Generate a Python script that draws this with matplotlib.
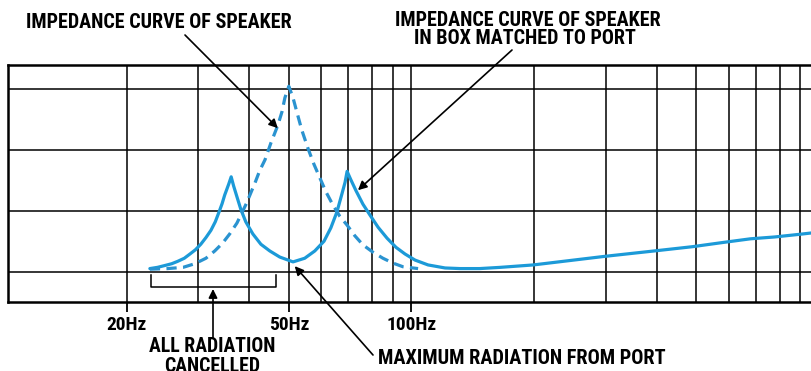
import matplotlib
matplotlib.use("Agg")
import matplotlib.pyplot as plt
from matplotlib.ticker import NullFormatter

plt.rcParams['font.family'] = ['Roboto Condensed', 'Roboto', 'DejaVu Sans']
plt.rcParams['font.weight'] = 'bold'

# speaker in box matched to port (solid)
freq_solid = [22.8, 23.8, 24.8, 25.8, 26.7, 27.7, 28.6, 29.5, 30.4, 31.3, 32.2,
              33.0, 33.7, 34.3, 34.8, 35.2, 35.6, 36.1,
              36.6, 37.3, 38.1, 39.2, 40.8, 42.7, 44.9, 47.5, 51.2,
              54.7, 57.9, 61.0, 63.4, 65.6, 67.5, 68.7, 69.5,
              71.0, 73.1, 76.0, 79.1, 82.8, 87.1, 91.6, 96.4, 102, 109.8,
              120.9, 131.6, 147, 165, 199, 297, 394, 489, 582, 679, 778, 885, 1000]
imp_solid = [0.55, 0.57, 0.60, 0.63, 0.67, 0.72, 0.79, 0.86, 0.95, 1.06, 1.18,
             1.32, 1.48, 1.62, 1.76, 1.85, 1.94, 2.06,
             1.91, 1.73, 1.53, 1.32, 1.12, 0.95, 0.84, 0.74, 0.66,
             0.72, 0.84, 1.00, 1.22, 1.48, 1.78, 1.97, 2.15,
             2.01, 1.83, 1.61, 1.43, 1.23, 1.05, 0.90, 0.79, 0.69, 0.61,
             0.56, 0.55, 0.55, 0.57, 0.61, 0.75, 0.84, 0.91, 0.98, 1.04, 1.07, 1.11, 1.15]

# speaker alone (dashed)
freq_dashed = [22.8, 25.2, 27.5, 29.4, 31.3, 32.9, 34.4, 35.8, 37.3, 38.3,
               39.4, 40.3, 41.3, 42.4, 43.7, 45.2, 47.0, 48.1, 48.9, 50.0,
               51.2, 52.3, 53.8, 55.7, 57.6, 59.6, 61.7, 64.1, 66.7, 69.4,
               72.6, 76.0, 80.4, 85.1, 90.1, 95.3, 103.8]
imp_dashed = [0.54, 0.55, 0.57, 0.63, 0.72, 0.84, 0.97, 1.12, 1.30, 1.46,
              1.63, 1.79, 1.96, 2.16, 2.34, 2.62, 2.91, 3.13, 3.36, 3.55,
              3.36, 3.13, 2.83, 2.53, 2.27, 2.04, 1.81, 1.60, 1.41, 1.27,
              1.09, 0.94, 0.82, 0.72, 0.64, 0.58, 0.55]

tick_freqs = [20, 50, 100]
tick_labels = ['20Hz', '50Hz', '100Hz']
grid_freqs = [30, 40, 60, 70, 80, 90, 200, 300, 400, 500, 600, 700, 800, 900]
grid_levels = [0.5, 1.5, 2.5, 3.5]

W, H = 812, 371
fig = plt.figure(figsize=(W / 100, H / 100), dpi=100)
ax = fig.add_axes([7.5 / W, 69 / H, (819 - 7.5) / W, 237 / H])
ax.set_xscale('log')
ax.set_xlim(10.2, 1000)
ax.set_ylim(0, 3.9)

ax.set_xticks(tick_freqs)
ax.set_xticklabels(tick_labels)
ax.set_xticks(grid_freqs, minor=True)
ax.xaxis.set_minor_formatter(NullFormatter())
ax.set_yticks(grid_levels)
ax.set_yticklabels([])
ax.set_axisbelow(True)
ax.grid(True, which='both', axis='x', color='black', lw=1.1)
ax.grid(True, which='major', axis='y', color='black', lw=1.1)
ax.tick_params(axis='x', which='major', direction='out', length=7, width=1.3,
               pad=3, labelsize=14, color='black')
ax.tick_params(axis='x', which='minor', length=0)
ax.tick_params(axis='y', length=0)
for side in ['left', 'bottom', 'top']:
    ax.spines[side].set_linewidth(1.8)
ax.spines['right'].set_visible(False)

ax.plot(freq_solid, imp_solid, color='#1c9ad8', lw=2.3, solid_joinstyle='round',
        solid_capstyle='round', zorder=3)
ax.plot(freq_dashed, imp_dashed, color='#2a93d0', lw=2.3, dashes=(3.2, 2.0),
        dash_capstyle='butt', zorder=3)

# bracket under the cancelled region
ax.plot([23.0, 23.0, 46.5, 46.5], [0.44, 0.25, 0.25, 0.44], color='black', lw=1.1, zorder=4)

arrow = dict(arrowstyle='-|>', color='black', lw=1.2, mutation_scale=13,
             shrinkA=0, shrinkB=0)
ax.annotate('', xy=(47.0, 2.86), xytext=(185, H - 35), textcoords='figure pixels',
            arrowprops=arrow)
ax.annotate('', xy=(73.9, 1.84), xytext=(512, H - 50), textcoords='figure pixels',
            arrowprops=arrow)
ax.annotate('', xy=(51.7, 0.59), xytext=(373, H - 355), textcoords='figure pixels',
            arrowprops=arrow, annotation_clip=False)
ax.annotate('', xy=(213, H - 289), xycoords='figure pixels', xytext=(213, H - 338),
            textcoords='figure pixels', arrowprops=arrow, annotation_clip=False)

def label(x, y, s, ha='center', size=14.5):
    fig.text(x / W, 1 - y / H, s, ha=ha, va='center', fontsize=size,
             fontweight='bold', color='black')

label(159, 22, 'IMPEDANCE CURVE OF SPEAKER')
label(528, 20, 'IMPEDANCE CURVE OF SPEAKER')
label(525, 39, 'IN BOX MATCHED TO PORT')
label(212, 346, 'ALL RADIATION', size=14.2)
label(212, 367, 'CANCELLED', size=14.2)
label(378, 358, 'MAXIMUM RADIATION FROM PORT', ha='left', size=14.6)

fig.savefig('out.png', dpi=100)
